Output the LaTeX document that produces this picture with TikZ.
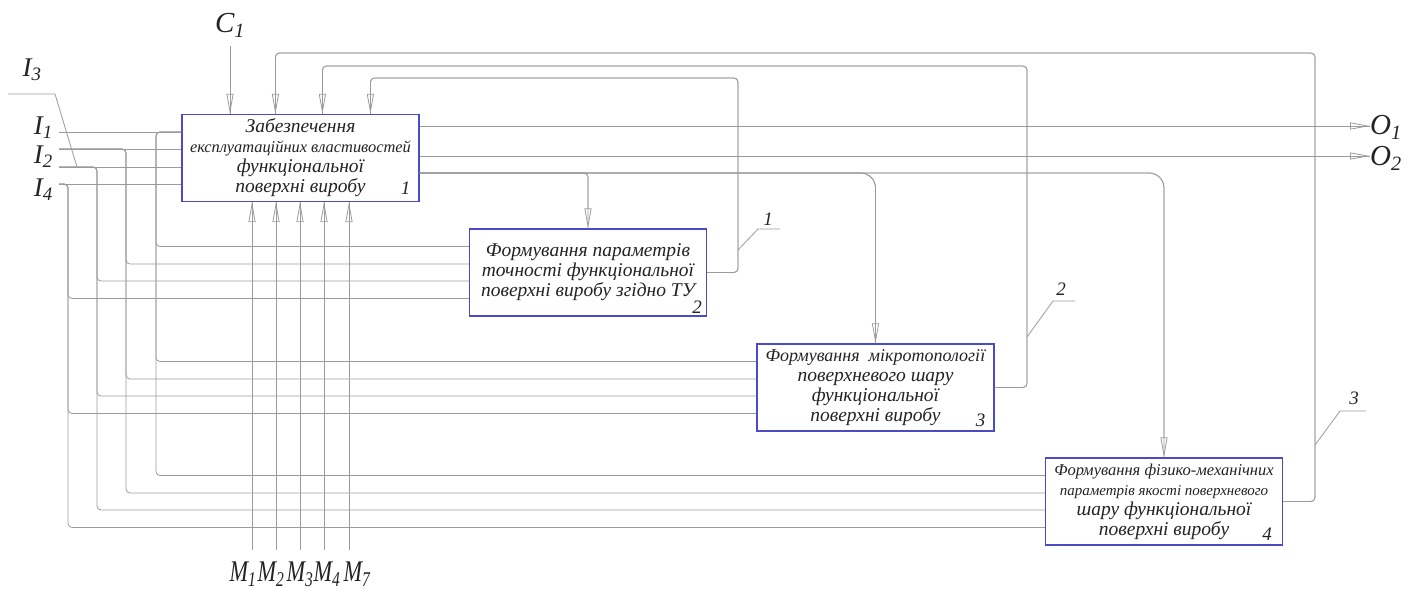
\documentclass[tikz,border=0pt]{standalone}
\usepackage{fontspec}
\setmainfont{Liberation Serif}
\newfontfamily\condfont{Liberation Serif}[FakeStretch=0.74]
\usetikzlibrary{positioning,calc,arrows.meta}
\definecolor{BoxBlue}{RGB}{75,75,200}
\definecolor{LineGray}{RGB}{155,155,155}
\definecolor{TextDark}{RGB}{35,35,35}
\tikzset{
  blk/.style={draw=BoxBlue,line width=1.2pt,fill=white,minimum width=237pt,minimum height=87pt,
    inner sep=0pt,align=center,text=TextDark,font=\itshape\fontsize{19.5}{20}\selectfont},
  ln/.style={draw=LineGray,line width=0.8pt,rounded corners=4pt},
  ar/.style={ln,-{Triangle[open,length=20pt,width=7pt]},postaction={draw=LineGray,-}},
  num/.style={font=\itshape\fontsize{19}{19}\selectfont,text=TextDark,inner sep=1pt},
  io/.style={font=\itshape\fontsize{29}{29}\selectfont,text=TextDark,inner sep=0pt},
  ilab/.style={io,font=\itshape\fontsize{27}{27}\selectfont},
  mlab/.style={io,font=\condfont\itshape\fontsize{30}{30}\selectfont},
}

\begin{document}
\begin{tikzpicture}[x=1pt,y=-1pt]
\useasboundingbox (0,0) rectangle (1411,589);
% blocks
\node[blk] (b1) at (300.5,158) {Забезпечення\\ {\fontsize{16.4}{20}\selectfont експлуатаційних властивостей}\\ функціональної\\ поверхні виробу};
\node[blk] (b2) at (588,272.5) {Формування параметрів\\ точності функціональної\\ поверхні виробу згідно ТУ};
\node[blk] (b3) at (875.5,387.5) {{\fontsize{18}{20}\selectfont Формування\ \ мікротопології}\\ поверхневого шару\\ функціональної\\ поверхні виробу};
\node[blk] (b4) at (1164,501.5) {{\fontsize{16.5}{20}\selectfont Формування фізико-механічних}\\ {\fontsize{15}{20}\selectfont параметрів якості поверхневого}\\ шару функціональної\\ поверхні виробу};
\node[num,anchor=south east] at ([shift={(-8pt,6pt)}]b1.south east) {1};
\node[num,anchor=south east] at ([shift={(-4pt,2pt)}]b2.south east) {2};
\node[num,anchor=south east] at ([shift={(-8pt,4pt)}]b3.south east) {3};
\node[num,anchor=south east] at ([shift={(-10pt,4pt)}]b4.south east) {4};

% labels
\node[io] (c1) at (230,25) {C\textsubscript{1}};
\node[ilab] (I3) at (32,70) {I\textsubscript{3}};
\node[ilab,anchor=east] (I1) at (53,128) {I\textsubscript{1}};
\node[ilab,anchor=east] (I2) at (53,157) {I\textsubscript{2}};
\node[ilab,anchor=east] (I4) at (53,190) {I\textsubscript{4}};
\node[io,anchor=west] (O1) at (1370,127) {O\textsubscript{1}};
\node[io,anchor=west] (O2) at (1370,158) {O\textsubscript{2}};
\node[mlab] (m1) at (243,574) {M\textsubscript{1}};
\node[mlab] (m2) at (271,574) {M\textsubscript{2}};
\node[mlab] (m3) at (300,574) {M\textsubscript{3}};
\node[mlab] (m4) at (327,574) {M\textsubscript{4}};
\node[mlab] (m7) at (357,574) {M\textsubscript{7}};
\node[num] (l1) at (768,219) {1};
\node[num] (l2) at (1061,289) {2};
\node[num] (l3) at (1354,398) {3};

% control and mechanisms
\draw[ar,shorten <=9pt] (c1.south) -- (c1.south |- b1.north);
\foreach \k/\xx in {1/252,2/276,3/300,4/324,7/349}{
  \coordinate (mb\k) at (\xx,550);
  \draw[ar] (mb\k) -- (b1.south -| mb\k);
}

% inputs
\coordinate (i1) at (59,132);
\coordinate (i2) at (59,149);
\coordinate (i3) at (59,167);
\coordinate (i4) at (59,184);
\foreach \c in {i1,i2,i3,i4} \draw[ln] (\c) -- (b1.west |- \c);
\draw[ln,rounded corners=0pt] (8,94) -- (55,94) -- (77,167);
\coordinate (v1) at (156,0);
\coordinate (v2) at (126,0);
\coordinate (v3) at (97,0);
\coordinate (v4) at (68,0);
\foreach \t in {b2,b3,b4}{
  \coordinate (\t-in1) at ([yshift=26pt]\t.west);
  \coordinate (\t-in2) at ([yshift=8.5pt]\t.west);
  \coordinate (\t-in3) at ([yshift=-8.5pt]\t.west);
  \coordinate (\t-in4) at ([yshift=-26pt]\t.west);
  \draw[ln] (b1.west |- i1) -| (v1 |- \t-in1) -- (\t-in1);
  \draw[ln] (i2) -| (v2 |- \t-in2) -- (\t-in2);
  \draw[ln] (i3) -| (v3 |- \t-in3) -- (\t-in3);
  \draw[ln] (i4) -| (v4 |- \t-in4) -- (\t-in4);
}

% outputs of block 1
\draw[ar] ([yshift=32pt]b1.east) -- ([yshift=32pt]b1.east -| O1.west);
\draw[ar] ([yshift=2pt]b1.east) -- ([yshift=2pt]b1.east -| O2.west);
\draw[ar] ([yshift=-15pt]b1.east) -| (b2.north);
\draw[ar,rounded corners=15pt] ([yshift=-15pt]b1.east) -| (b3.north);
\draw[ar,rounded corners=15pt] ([yshift=-15pt]b1.east) -| (b4.north);

% feedback
\draw[ar] (b2.east) -| (738,78) -| ([xshift=189pt]b1.north west);
\draw[ar] (b3.east) -| (1027,66) -| ([xshift=141pt]b1.north west);
\draw[ar] (b4.east) -| (1315,53) -| ([xshift=94pt]b1.north west);

% leaders
\coordinate (t1) at (738,250);
\coordinate (t2) at (1027,337);
\coordinate (t3) at (1315,445);
\draw[ln,rounded corners=0pt] (t1) -- (758,229) -- ++(22,0);
\draw[ln,rounded corners=0pt] (t2) -- (1053,301) -- ++(22,0);
\draw[ln,rounded corners=0pt] (t3) -- (1340,411) -- ++(26,0);
\end{tikzpicture}
\end{document}
